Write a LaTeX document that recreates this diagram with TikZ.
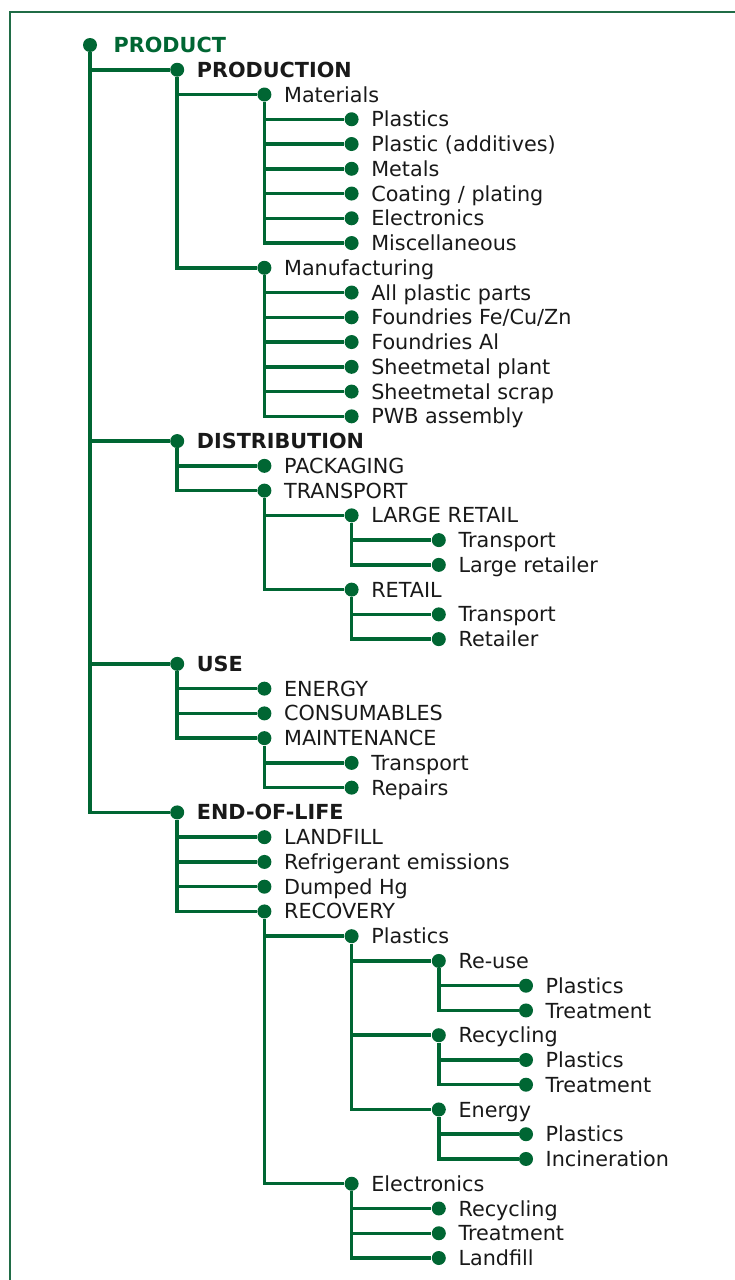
\documentclass[tikz,border=0pt]{standalone}
\usepackage{fontspec}
\setmainfont{DejaVu Sans}
\usetikzlibrary{positioning}
\definecolor{treegreen}{RGB}{0,102,51}
\definecolor{inkgray}{RGB}{25,25,25}
\tikzset{
  dot/.style={circle,fill=treegreen,inner sep=0pt,minimum size=0.28cm},
  item/.style={inner sep=0pt,text height=8.6pt,text depth=0pt,text=inkgray,
    font=\fontsize{11.8}{13}\selectfont},
  head/.style={item,font=\fontsize{11.8}{13}\selectfont\bfseries},
  branch/.style={draw=treegreen,line width=0.07cm},
  frame/.style={draw=treegreen!75!gray,line width=0.025cm},
}

\begin{document}
\begin{tikzpicture}[x=1.744cm,y=-0.4951cm,label distance=0.24cm]
  \useasboundingbox (-1.8cm,0.9cm) rectangle (12.88cm,-24.7cm);
  \draw[frame] (-1.6cm,-25cm) |- (13cm,0.66cm);

  % Level 0 and 1
  \node[dot,label={[head,text=treegreen,label distance=0.32cm]right:PRODUCT}] (prod) at (0,0) {};
  \node[dot,label={[head]right:PRODUCTION}] (prodn) at (1,1) {};
  \node[dot,label={[head]right:DISTRIBUTION}] (dist) at (1,16) {};
  \node[dot,label={[head]right:USE}] (use) at (1,25) {};
  \node[dot,label={[head]right:END-OF-LIFE}] (eol) at (1,31) {};

  % Production
  \node[dot,label={[item]right:Materials}] (mat) at (2,2) {};
  \node[dot,label={[item]right:Plastics}] (matPl) at (3,3) {};
  \node[dot,label={[item]right:Plastic (additives)}] (matAdd) at (3,4) {};
  \node[dot,label={[item]right:Metals}] (matMet) at (3,5) {};
  \node[dot,label={[item]right:Coating / plating}] (matCoat) at (3,6) {};
  \node[dot,label={[item]right:Electronics}] (matEl) at (3,7) {};
  \node[dot,label={[item]right:Miscellaneous}] (matMisc) at (3,8) {};
  \node[dot,label={[item]right:Manufacturing}] (man) at (2,9) {};
  \node[dot,label={[item]right:All plastic parts}] (manPl) at (3,10) {};
  \node[dot,label={[item]right:Foundries Fe/Cu/Zn}] (manFe) at (3,11) {};
  \node[dot,label={[item]right:Foundries Al}] (manAl) at (3,12) {};
  \node[dot,label={[item]right:Sheetmetal plant}] (manSp) at (3,13) {};
  \node[dot,label={[item]right:Sheetmetal scrap}] (manSs) at (3,14) {};
  \node[dot,label={[item]right:PWB assembly}] (manPwb) at (3,15) {};

  % Distribution
  \node[dot,label={[item]right:PACKAGING}] (pack) at (2,17) {};
  \node[dot,label={[item]right:TRANSPORT}] (trans) at (2,18) {};
  \node[dot,label={[item]right:LARGE RETAIL}] (lret) at (3,19) {};
  \node[dot,label={[item]right:Transport}] (lretT) at (4,20) {};
  \node[dot,label={[item]right:Large retailer}] (lretR) at (4,21) {};
  \node[dot,label={[item]right:RETAIL}] (ret) at (3,22) {};
  \node[dot,label={[item]right:Transport}] (retT) at (4,23) {};
  \node[dot,label={[item]right:Retailer}] (retR) at (4,24) {};

  % Use
  \node[dot,label={[item]right:ENERGY}] (energy) at (2,26) {};
  \node[dot,label={[item]right:CONSUMABLES}] (cons) at (2,27) {};
  \node[dot,label={[item]right:MAINTENANCE}] (maint) at (2,28) {};
  \node[dot,label={[item]right:Transport}] (maintT) at (3,29) {};
  \node[dot,label={[item]right:Repairs}] (maintR) at (3,30) {};

  % End-of-life
  \node[dot,label={[item]right:LANDFILL}] (land) at (2,32) {};
  \node[dot,label={[item]right:Refrigerant emissions}] (refr) at (2,33) {};
  \node[dot,label={[item]right:Dumped Hg}] (hg) at (2,34) {};
  \node[dot,label={[item]right:RECOVERY}] (recov) at (2,35) {};
  \node[dot,label={[item]right:Plastics}] (rPl) at (3,36) {};
  \node[dot,label={[item]right:Re-use}] (reuse) at (4,37) {};
  \node[dot,label={[item]right:Plastics}] (reusePl) at (5,38) {};
  \node[dot,label={[item]right:Treatment}] (reuseTr) at (5,39) {};
  \node[dot,label={[item]right:Recycling}] (recyc) at (4,40) {};
  \node[dot,label={[item]right:Plastics}] (recycPl) at (5,41) {};
  \node[dot,label={[item]right:Treatment}] (recycTr) at (5,42) {};
  \node[dot,label={[item]right:Energy}] (enrg) at (4,43) {};
  \node[dot,label={[item]right:Plastics}] (enrgPl) at (5,44) {};
  \node[dot,label={[item]right:Incineration}] (enrgInc) at (5,45) {};
  \node[dot,label={[item]right:Electronics}] (rEl) at (3,46) {};
  \node[dot,label={[item]right:Recycling}] (rElRec) at (4,47) {};
  \node[dot,label={[item]right:Treatment}] (rElTr) at (4,48) {};
  \node[dot,label={[item]right:Landfill}] (rElLand) at (4,49) {};

  % Branches
  \foreach \p/\c in {prod/prodn,prod/dist,prod/use,prod/eol,
      prodn/mat,prodn/man,
      mat/matPl,mat/matAdd,mat/matMet,mat/matCoat,mat/matEl,mat/matMisc,
      man/manPl,man/manFe,man/manAl,man/manSp,man/manSs,man/manPwb,
      dist/pack,dist/trans,trans/lret,trans/ret,
      lret/lretT,lret/lretR,ret/retT,ret/retR,
      use/energy,use/cons,use/maint,maint/maintT,maint/maintR,
      eol/land,eol/refr,eol/hg,eol/recov,recov/rPl,recov/rEl,
      rPl/reuse,rPl/recyc,rPl/enrg,
      reuse/reusePl,reuse/reuseTr,recyc/recycPl,recyc/recycTr,
      enrg/enrgPl,enrg/enrgInc,
      rEl/rElRec,rEl/rElTr,rEl/rElLand}
    \draw[branch] (\p) |- (\c);
\end{tikzpicture}
\end{document}
